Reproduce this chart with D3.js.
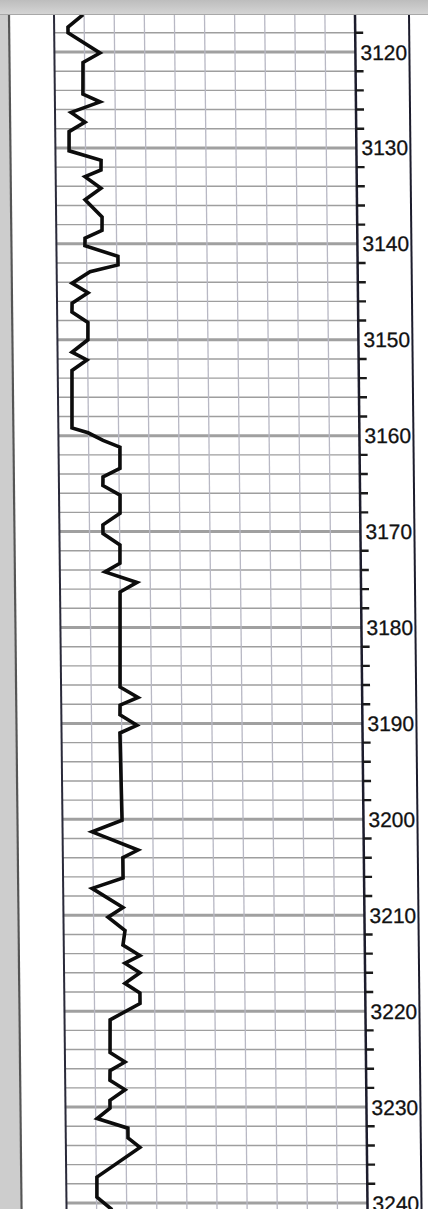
<!DOCTYPE html>
<html>
<head>
<meta charset="utf-8">
<script src="https://cdn.jsdelivr.net/npm/d3@7"></script>
<style>
  html, body { margin: 0; padding: 0; background: #fff; }
  svg { display: block; }
</style>
</head>
<body>
<div class="canva"></div>
<script>
// log curve (depth, reading on a 0-150 scale)
const depths = [
  3116.1, 3117.4, 3118.0, 3120.1, 3121.1, 3124.4, 3125.2, 3126.3, 3127.3, 3128.3,
  3130.3, 3131.3, 3132.3, 3133.0, 3134.2, 3135.4, 3137.2, 3138.6, 3139.4, 3140.2,
  3141.3, 3142.2, 3142.9, 3144.1, 3145.1, 3146.2, 3147.1, 3148.2, 3150.0, 3151.3,
  3152.1, 3153.2, 3159.2, 3159.7, 3160.5, 3161.2, 3163.4, 3164.3, 3165.2, 3166.2,
  3168.1, 3169.3, 3170.2, 3171.4, 3173.3, 3174.2, 3175.3, 3176.3, 3186.2, 3187.3,
  3188.1, 3189.1, 3190.2, 3191.0, 3200.1, 3201.3, 3203.2, 3204.0, 3206.1, 3207.2,
  3209.2, 3210.2, 3211.6, 3213.1, 3214.2, 3215.0, 3216.0, 3217.1, 3218.1, 3219.2,
  3220.9, 3224.3, 3225.3, 3226.2, 3227.2, 3228.2, 3229.3, 3230.1, 3231.2, 3232.2,
  3233.2, 3234.2, 3237.3, 3239.4, 3240.7
];
const readings = [
  14.5, 6.9, 6.9, 22.7, 14.2, 14.0, 22.5, 8.0, 14.9, 6.9,
  6.8, 22.7, 22.6, 14.6, 22.5, 14.5, 22.9, 22.8, 14.3, 14.2,
  30.6, 30.6, 16.6, 7.6, 15.5, 7.5, 7.4, 15.3, 15.2, 7.2,
  14.6, 7.1, 6.8, 14.8, 22.2, 30.6, 30.5, 22.0, 21.9, 30.4,
  30.3, 21.7, 21.7, 30.1, 30.0, 22.5, 38.4, 29.9, 29.4, 38.3,
  29.3, 29.2, 37.6, 29.1, 29.7, 14.7, 37.5, 29.9, 29.9, 14.4,
  29.7, 22.2, 30.6, 29.5, 37.9, 30.4, 37.8, 30.3, 37.7, 37.7,
  22.7, 22.5, 29.9, 22.4, 22.3, 29.8, 22.2, 22.2, 15.7, 31.0,
  31.0, 36.9, 15.3, 15.2, 22.7
];
const depthLabels = [3120, 3130, 3140, 3150, 3160, 3170, 3180, 3190, 3200, 3210, 3220, 3230, 3240];

const data = depths.map((d, i) => ({ depth: d, value: readings[i] }));

const W = 428, H = 1209;
const topY = 15;
const skew = 0.0105; // the scan leans a little to the right

const svg = d3.select('.canva').append('svg')
    .attr('width', W)
    .attr('height', H);

const y = d3.scaleLinear()
    .domain([3120, 3240])
    .range([52, 1203]);

const x = d3.scaleLinear()
    .domain([0, 150])
    .range([54, 355]);

const depthEdge = 355, rightEdge = 409;
const bottomY = H + 20;

const g = svg.append('g')
    .attr('transform', `matrix(1,0,${skew},1,${-skew * topY},0)`);

// scanner margin on the left
g.append('rect')
    .attr('x', -30).attr('y', topY)
    .attr('width', 38).attr('height', bottomY - topY)
    .attr('fill', '#cdcdcd');
g.append('line')
    .attr('x1', 9).attr('x2', 9)
    .attr('y1', topY).attr('y2', bottomY)
    .attr('stroke', '#555')
    .attr('stroke-width', 2.2);

// horizontal grid, every 2 units, heavy every 10
const gridDepths = d3.range(3118, 3242, 2);
g.selectAll('.hgrid')
    .data(gridDepths)
    .enter()
    .append('line')
    .attr('class', 'hgrid')
    .attr('x1', x(0)).attr('x2', depthEdge)
    .attr('y1', d => y(d)).attr('y2', d => y(d))
    .attr('stroke', d => d % 10 === 0 ? '#a0a0a0' : '#9e9e9e')
    .attr('stroke-width', d => d % 10 === 0 ? 3 : 1.4);

// vertical grid
g.selectAll('.vgrid')
    .data(d3.range(15, 150, 15))
    .enter()
    .append('line')
    .attr('class', 'vgrid')
    .attr('x1', d => x(d)).attr('x2', d => x(d))
    .attr('y1', topY).attr('y2', bottomY)
    .attr('stroke', '#b8b8c4')
    .attr('stroke-width', 1.3);

// track borders
[[x(0), 2, '#2a2a3a'], [depthEdge, 2.5, '#1c1c2c'], [rightEdge, 2, '#1c1c2c']].forEach(b => {
    g.append('line')
        .attr('x1', b[0]).attr('x2', b[0])
        .attr('y1', topY).attr('y2', bottomY)
        .attr('stroke', b[2])
        .attr('stroke-width', b[1]);
});

// depth ticks
g.selectAll('.tick')
    .data(gridDepths.filter(d => d % 10 !== 0))
    .enter()
    .append('line')
    .attr('class', 'tick')
    .attr('x1', depthEdge).attr('x2', depthEdge + 8)
    .attr('y1', d => y(d)).attr('y2', d => y(d))
    .attr('stroke', '#1a1a1a')
    .attr('stroke-width', 2.4);

g.selectAll('.lbl')
    .data(depthLabels)
    .enter()
    .append('text')
    .attr('class', 'lbl')
    .attr('x', depthEdge + 5)
    .attr('y', d => y(d))
    .attr('dy', '0.36em')
    .attr('font-family', 'Liberation Sans, Arial, sans-serif')
    .attr('font-size', 21)
    .attr('fill', '#111')
    .attr('stroke', '#111')
    .attr('stroke-width', 0.3)
    .text(d => d);

// the log curve
const line = d3.line()
    .x(d => x(d.value))
    .y(d => y(d.depth));

g.append('path')
    .datum(data)
    .attr('d', line)
    .attr('fill', 'none')
    .attr('stroke', '#0c0c0c')
    .attr('stroke-width', 3.6)
    .attr('stroke-linejoin', 'miter');

// scanner shadow along the top
const grad = svg.append('defs').append('linearGradient')
    .attr('id', 'topshade')
    .attr('x1', 0).attr('x2', 0).attr('y1', 0).attr('y2', 1);
grad.append('stop').attr('offset', '0%').attr('stop-color', '#bdbdbd');
grad.append('stop').attr('offset', '100%').attr('stop-color', '#d6d6d6');

svg.append('rect')
    .attr('x', 0).attr('y', 0)
    .attr('width', W).attr('height', topY)
    .attr('fill', 'url(#topshade)');
svg.append('line')
    .attr('x1', 0).attr('x2', W)
    .attr('y1', topY - 0.5).attr('y2', topY - 0.5)
    .attr('stroke', '#a8a8a8')
    .attr('stroke-width', 1);
</script>
</body>
</html>
